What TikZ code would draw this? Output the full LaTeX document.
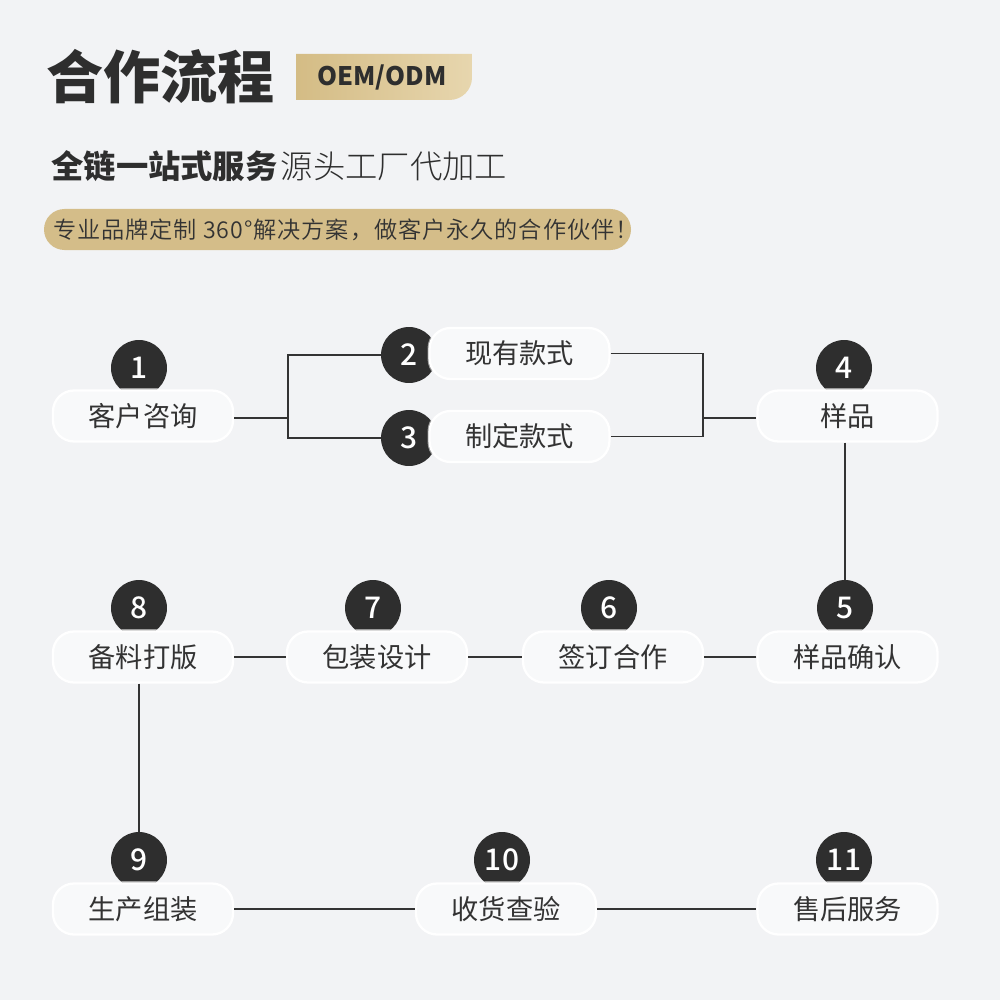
\documentclass[tikz,border=0pt]{standalone}
\usepackage{fontspec}
\setmainfont{Noto Sans CJK SC}
\newfontfamily\medfont{Noto Sans CJK SC}[UprightFont={* Medium}]
\newfontfamily\lightfont{Noto Sans CJK SC}[UprightFont={* Light}]
\newfontfamily\demifont{Noto Sans CJK SC}[UprightFont={* DemiLight}, LetterSpace=4]
\usetikzlibrary{calc}
\definecolor{bg}{HTML}{F2F3F5}
\definecolor{pillfill}{HTML}{F8F9FA}
\definecolor{darkc}{HTML}{2E2E2E}
\definecolor{txt}{HTML}{333333}
\definecolor{goldA}{HTML}{D4BC85}
\definecolor{goldB}{HTML}{E7D6AE}
\definecolor{goldP}{HTML}{D4BD89}
\definecolor{shadowgray}{HTML}{9A9A9A}
\tikzset{
  pill/.style={draw=white, line width=1.3pt, fill=pillfill, rounded corners=0.42cm,
    minimum width=3.6cm, minimum height=1.02cm, inner sep=0pt,
    font=\fontsize{15.5pt}{18pt}\selectfont, text=txt},
  numcirc/.style={circle, fill=darkc, minimum size=1.12cm, inner sep=0pt,
    font=\medfont\fontsize{17pt}{19pt}\selectfont, text=white},
  link/.style={draw=txt, line width=0.6pt}
}
\newcommand\flowstep[7]{%
  \node[numcirc] (c#1) at (#2,#3) {#4};
  \begin{scope}
    \clip (#2,#3) circle [radius=0.56cm];
    \fill[shadowgray, rounded corners=0.46cm] ({#5-92},{#6-28}) rectangle ({#5+92},{#6+28});
  \end{scope}
  \node[pill] (p#1) at (#5,#6) {#7};
}
\begin{document}
\begin{tikzpicture}[x=0.02cm, y=-0.02cm]
\useasboundingbox[fill=bg] (0,0) rectangle (1000,1000);
% header
\node[anchor=west, inner sep=0pt, text=darkc, font=\fontsize{32.5pt}{35pt}\selectfont\bfseries] (title) at (46,77) {合作流程};
\shade[left color=goldA, right color=goldB] (296,54) -- (472,54) [rounded corners=0.45cm] -- (472,100) [sharp corners] -- (296,100) -- cycle;
\node[inner sep=0pt, text=darkc, font=\fontsize{14.5pt}{16pt}\selectfont\bfseries] (oem) at (382,77) {OEM/ODM};
\node[anchor=west, inner sep=0pt, text=darkc, font=\fontsize{18.4pt}{20pt}\selectfont] (sub) at (51,166) {{\bfseries 全链一站式服务}\hspace{0.1em}{\lightfont 源头工厂代加工}};
\fill[goldP, rounded corners=0.41cm] (44,209) rectangle (631,250);
\node[anchor=west, inner sep=0pt, text=txt, font=\demifont\fontsize{13.2pt}{15pt}\selectfont] (slogan) at (53,230) {专业品牌定制 360°解决方案，做客户永久的合作伙伴！};
% steps
\flowstep{1}{139}{368}{1}{143}{416}{客户咨询}
\flowstep{2}{409}{355}{2}{519.5}{353.5}{现有款式}
\flowstep{3}{409}{438}{3}{519.5}{436.5}{制定款式}
\flowstep{4}{844}{368}{4}{847.5}{416}{样品}
\flowstep{5}{845}{608}{5}{847.5}{657}{样品确认}
\flowstep{6}{609}{608}{6}{613}{657}{签订合作}
\flowstep{7}{373}{608}{7}{377}{657}{包装设计}
\flowstep{8}{139}{608}{8}{143}{657}{备料打版}
\flowstep{9}{139}{860}{9}{143}{909}{生产组装}
\flowstep{10}{502}{860}{10}{506}{909}{收货查验}
\flowstep{11}{844}{860}{11}{847.5}{909}{售后服务}
% connectors
\coordinate (j1) at (288,418);
\coordinate (j2) at (703,418);
\draw[link] (p1.east |- j1) -- (j1);
\draw[link] (c2.west) -| (j1) |- (c3.west);
\draw[link] (p2.east) -| (j2) |- (p3.east);
\draw[link] (j2) -- (p4.west |- j2);
\draw[link] (c5.north |- p4.south) -- (c5.north);
\draw[link] (p5.west) -- (p6.east);
\draw[link] (p6.west) -- (p7.east);
\draw[link] (p7.west) -- (p8.east);
\draw[link] (c9.north |- p8.south) -- (c9.north);
\draw[link] (p9.east) -- (p10.west);
\draw[link] (p10.east) -- (p11.west);
\end{tikzpicture}
\end{document}
